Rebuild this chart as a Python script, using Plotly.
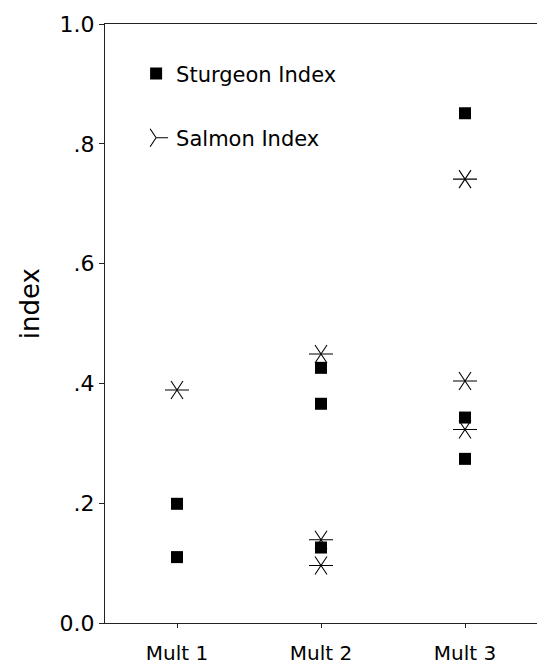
import plotly.graph_objects as go

categories = ["Mult 1", "Mult 2", "Mult 3"]

sturgeon_x = ["Mult 1", "Mult 1", "Mult 2", "Mult 2", "Mult 2", "Mult 3", "Mult 3", "Mult 3"]
sturgeon_y = [0.199, 0.110, 0.426, 0.366, 0.126, 0.851, 0.343, 0.274]

salmon_x = ["Mult 1", "Mult 2", "Mult 2", "Mult 2", "Mult 3", "Mult 3", "Mult 3"]
salmon_y = [0.389, 0.449, 0.139, 0.096, 0.741, 0.404, 0.323]

y_ticks = [0.0, 0.2, 0.4, 0.6, 0.8, 1.0]
y_ticktext = ["0.0", ".2", ".4", ".6", ".8", "1.0"]

font_family = "DejaVu Sans, Liberation Sans, Arial, sans-serif"

fig = go.Figure()

fig.add_trace(go.Scatter(
    x=sturgeon_x, y=sturgeon_y, mode="markers", name="Sturgeon Index",
    legendgroup="a",
    marker=dict(symbol="square", size=12, color="black", line=dict(width=0)),
))
# six-armed asterisk: two "Y" symbols rotated against each other
fig.add_trace(go.Scatter(
    x=salmon_x, y=salmon_y, mode="markers", name="Salmon Index",
    legendgroup="b",
    marker=dict(symbol="y-right-open", size=15, color="black",
                line=dict(width=1.1, color="black")),
))
fig.add_trace(go.Scatter(
    x=salmon_x, y=salmon_y, mode="markers", name="Salmon Index",
    legendgroup="b", showlegend=False,
    marker=dict(symbol="y-left-open", size=15, color="black",
                line=dict(width=1.1, color="black")),
))

fig.update_layout(
    width=538, height=665,
    margin=dict(l=105, r=1, t=24, b=42),
    paper_bgcolor="white", plot_bgcolor="white",
    font=dict(family=font_family, color="black", size=21),
    showlegend=True,
    legend=dict(
        x=0.072, y=0.951, xanchor="left", yanchor="top",
        bgcolor="rgba(0,0,0,0)", borderwidth=0,
        font=dict(size=21, family=font_family, color="black"),
        traceorder="grouped", tracegroupgap=34,
        itemsizing="trace",
    ),
    xaxis=dict(
        type="category", categoryorder="array", categoryarray=categories,
        range=[-0.5, 2.5],
        showline=True, linecolor="#222", linewidth=1, mirror=True,
        ticks="outside", ticklen=4, tickcolor="#222", tickwidth=1,
        ticklabelstandoff=8,
        showgrid=False, zeroline=False,
        tickfont=dict(size=20, family=font_family, color="black"),
    ),
    yaxis=dict(
        range=[0, 1.0],
        tickvals=y_ticks, ticktext=y_ticktext,
        showline=True, linecolor="#222", linewidth=1,
        ticks="outside", ticklen=5, tickcolor="#222", tickwidth=1,
        showgrid=False, zeroline=False,
        tickfont=dict(size=22, family=font_family, color="black"),
    ),
    annotations=[dict(
        text="index", textangle=-90, showarrow=False,
        xref="paper", yref="paper", x=-0.175, y=0.533,
        xanchor="center", yanchor="middle",
        font=dict(size=26, family=font_family, color="black"),
    )],
)

fig.write_html("out.html")
